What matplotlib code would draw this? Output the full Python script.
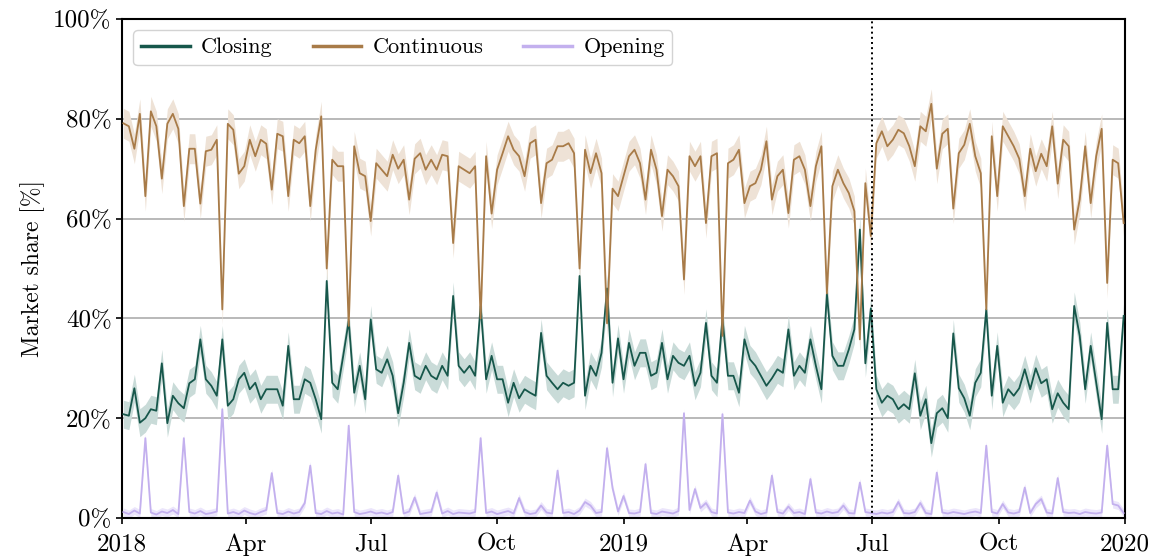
import pandas as pd
import matplotlib
matplotlib.use('Agg')
import matplotlib.pyplot as plt

plt.rcParams['font.family'] = 'cmr10'
plt.rcParams['mathtext.fontset'] = 'cm'
plt.rcParams['axes.formatter.use_mathtext'] = True

# Market share per trading session, sampled every 4 days (2018-01-02 .. 2019-12-31)
dates = pd.date_range('2018-01-02', periods=183, freq='4D')

continuous = [
    79.1, 78.5, 74.0, 81.0, 64.5, 81.5, 78.5, 68.0, 79.0, 81.0, 78.0, 62.5, 74.0, 74.0, 63.0, 73.5,
    73.8, 75.8, 41.8, 79.0, 77.8, 69.0, 70.5, 75.8, 72.5, 75.8, 75.0, 65.8, 77.0, 76.5, 64.5, 75.8,
    75.1, 76.5, 62.5, 73.8, 80.5, 50.0, 71.8, 70.5, 70.5, 38.5, 74.5, 69.1, 68.5, 59.5, 71.1, 69.8,
    68.5, 72.8, 70.0, 71.8, 63.8, 72.0, 73.1, 69.8, 71.8, 69.8, 72.8, 72.5, 55.1, 70.5, 69.8,
    69.1, 70.5, 40.0, 72.5, 61.0, 69.8, 73.1, 76.5, 73.8, 72.5, 68.5, 75.1, 75.8, 63.1, 71.1, 71.8,
    74.5, 74.5, 75.1, 73.1, 50.0, 73.8, 69.1, 73.1, 69.1, 39.0, 66.0, 64.5, 68.5, 72.5, 73.8, 71.1,
    63.8, 73.8, 69.8, 60.5, 69.8, 68.5, 66.5, 47.8, 72.5, 70.5, 72.5, 59.1, 72.5, 73.1, 36.5, 71.1,
    71.8, 73.8, 63.1, 66.5, 67.1, 69.8, 75.5, 63.8, 68.5, 69.8, 61.1, 71.8, 72.5, 69.8, 62.5, 70.5,
    74.5, 45.0, 66.5, 69.8, 67.1, 65.1, 61.5, 35.8, 67.1, 56.5, 75.1, 77.5, 74.5, 75.8, 77.8, 77.1,
    74.5, 70.5, 78.5, 77.5, 83.0, 70.0, 77.0, 78.0, 62.0, 73.1, 74.8, 79.0, 72.5, 69.1, 41.8, 76.5,
    64.5, 78.5, 76.5, 74.5, 72.0, 64.5, 74.0, 69.5, 73.0, 70.5, 78.5, 67.0, 75.8, 74.5, 57.8,
    63.8, 74.5, 63.1, 72.5, 78.0, 47.1, 71.8, 71.1, 59.1,
]

closing = [
    20.8, 20.5, 26.0, 19.1, 20.0, 21.8, 21.5, 31.0, 19.0, 24.5, 23.0, 22.0, 27.0, 27.8, 35.8, 27.8,
    26.5, 24.5, 35.8, 22.5, 23.8, 27.8, 29.1, 25.8, 27.1, 23.8, 25.8, 25.8, 25.8, 22.5, 34.5, 23.8,
    23.8, 27.8, 27.1, 23.8, 19.8, 47.5, 27.1, 25.8, 32.5, 39.5, 25.1, 30.5, 23.8, 39.8, 29.8, 29.1,
    31.8, 28.5, 21.0, 27.1, 35.1, 28.5, 27.8, 30.5, 28.5, 27.8, 30.5, 28.5, 44.5, 30.5, 29.1,
    30.5, 28.5, 42.5, 27.8, 32.5, 27.8, 27.8, 23.1, 27.1, 24.0, 25.8, 25.1, 24.5, 37.1, 28.5, 27.1,
    25.8, 27.1, 26.5, 27.1, 48.5, 24.5, 30.5, 28.5, 33.1, 46.0, 27.1, 36.0, 27.8, 35.1, 30.5, 33.1,
    33.1, 28.5, 29.1, 35.1, 27.8, 32.5, 31.1, 30.5, 32.5, 26.5, 29.1, 39.1, 28.5, 27.1, 40.0, 28.5,
    28.5, 25.1, 35.8, 31.8, 30.5, 28.5, 26.5, 28.0, 29.8, 29.1, 37.8, 28.5, 30.5, 29.1, 35.8, 30.5,
    25.8, 45.0, 32.5, 30.5, 30.5, 33.8, 37.8, 57.8, 31.0, 42.0, 25.8, 23.1, 24.5, 23.8, 21.8, 22.8,
    21.8, 29.0, 20.5, 23.8, 15.0, 21.0, 22.0, 20.0, 37.0, 26.0, 24.0, 20.5, 27.1, 29.1, 41.8, 24.5,
    34.5, 23.1, 25.8, 24.5, 26.0, 29.8, 25.8, 30.0, 27.0, 27.8, 21.8, 25.0, 23.1, 21.8, 42.5,
    36.5, 25.8, 34.5, 27.1, 19.8, 39.1, 25.8, 25.8, 40.5,
]

opening = [
    1.2, 0.8, 1.5, 0.9, 16.0, 1.1, 0.7, 1.3, 1.0, 1.6, 0.8, 16.0, 1.2, 0.9, 1.4, 0.8,
    1.0, 1.3, 21.8, 0.9, 1.2, 0.8, 1.5, 1.0, 0.7, 1.2, 1.6, 9.0, 1.0, 0.8, 1.3, 0.9,
    1.2, 3.0, 10.5, 1.0, 0.8, 1.4, 0.9, 1.1, 0.7, 18.5, 1.2, 0.8, 1.0, 1.3, 0.9, 1.1,
    0.8, 1.2, 8.5, 0.9, 1.3, 4.1, 0.8, 1.0, 1.2, 5.1, 0.9, 1.4, 0.8, 1.1, 1.0,
    0.9, 1.2, 16.0, 1.0, 1.3, 0.8, 1.1, 1.4, 0.9, 4.0, 1.2, 0.8, 1.0, 2.5, 1.1, 0.9,
    9.5, 1.0, 1.2, 0.8, 1.5, 3.2, 2.5, 1.0, 1.2, 14.0, 6.0, 1.3, 4.4, 1.0, 0.9, 1.2,
    10.8, 1.0, 0.8, 1.3, 1.1, 0.9, 1.4, 21.0, 1.6, 5.8, 2.0, 3.0, 1.2, 0.9, 20.8, 1.1,
    0.9, 1.2, 1.0, 3.5, 1.3, 0.8, 1.1, 8.5, 1.2, 0.9, 2.3, 1.0, 1.2, 0.8, 7.8, 1.1,
    0.9, 1.3, 1.0, 1.2, 2.5, 1.0, 0.9, 7.1, 1.2, 1.0, 0.8, 1.1, 0.9, 1.2, 3.2, 1.0,
    0.9, 1.2, 3.0, 1.0, 0.8, 9.1, 1.1, 0.9, 1.2, 1.0, 0.8, 1.1, 1.3, 1.0, 14.5, 1.2,
    0.9, 2.8, 1.1, 0.9, 1.2, 6.1, 1.0, 2.8, 3.8, 1.1, 0.9, 8.0, 1.2, 1.0, 1.1,
    0.8, 1.2, 1.0, 0.9, 1.1, 14.5, 2.8, 2.5, 1.0,
]

# half width of the shaded uncertainty band, in percentage points
band_continuous = 3.0
band_closing = 2.8
band_opening = 0.8

colors = {'Closing': '#17574b', 'Continuous': '#a87b48', 'Opening': '#c3b0ee'}
band_colors = {'Closing': '#c9dbd8', 'Continuous': '#eee2d6', 'Opening': '#ebe5fb'}

split_date = pd.Timestamp('2019-07-01')

fig = plt.figure(figsize=(11.52, 5.57), dpi=100)
ax = fig.add_axes([0.1059, 0.070, 0.8707, 0.8959])

series = [('Closing', closing, band_closing),
          ('Continuous', continuous, band_continuous),
          ('Opening', opening, band_opening)]

for name, values, half in series:
    lo = [max(v - half, 0) for v in values]
    hi = [v + half for v in values]
    ax.fill_between(dates, lo, hi, color=band_colors[name], lw=0, zorder=1)

for name, values, half in series:
    ax.plot(dates, values, color=colors[name], lw=1.3, label=name, zorder=3)

ax.axvline(split_date, color='black', ls=':', lw=1.4, zorder=4)

ax.set_xlim(pd.Timestamp('2018-01-01'), pd.Timestamp('2020-01-01'))
ax.set_ylim(0, 100)

yticks = [0, 20, 40, 60, 80, 100]
ax.set_yticks(yticks)
ax.set_yticklabels([f'{t}%' for t in yticks])
ax.yaxis.grid(True, color='#b3b3b3', lw=1.3)
ax.set_axisbelow(True)

xtick_dates = pd.date_range('2018-01-01', '2020-01-01', freq='QS')
xtick_labels = [str(d.year) if d.month == 1 else d.strftime('%b') for d in xtick_dates]
ax.set_xticks(xtick_dates)
ax.set_xticklabels(xtick_labels)

ax.tick_params(axis='both', labelsize=18, length=4, width=1.2, direction='out')
ax.tick_params(axis='x', pad=7)
for s in ax.spines.values():
    s.set_linewidth(1.5)

ax.set_ylabel('Market share [%]', fontsize=17, labelpad=6)

leg = ax.legend(loc='upper left', ncol=3, fontsize=16, frameon=True,
                fancybox=True, edgecolor='#c8c8c8', borderpad=0.35,
                columnspacing=1.8, handlelength=2.2, handletextpad=0.5,
                bbox_to_anchor=(0.0, 1.0))
for line in leg.get_lines():
    line.set_linewidth(2.5)
leg.get_frame().set_linewidth(1.0)

plt.savefig('out.png', dpi=100)
plt.close()
